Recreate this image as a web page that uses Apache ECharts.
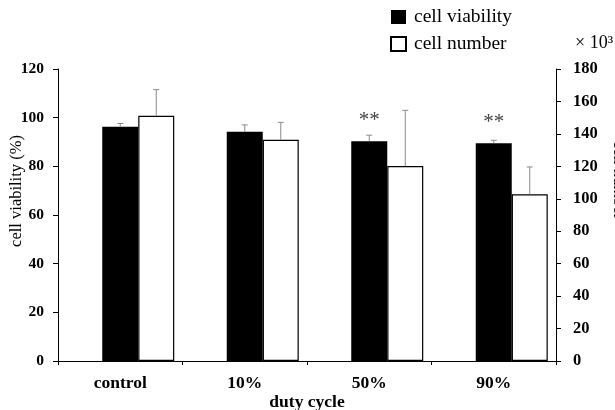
<!DOCTYPE html>
<html>
<head>
<meta charset="utf-8">
<script src="https://cdn.jsdelivr.net/npm/echarts@6/dist/echarts.min.js"></script>
<style>
html,body{margin:0;padding:0;background:#fff;}
#chart{width:615px;height:410px;}
</style>
</head>
<body>
<div id="chart"></div>
<script>
// ---- data ----
const categories = ['control', '10%', '50%', '90%'];
const viability = [96.3, 94.2, 90.3, 89.5];          // cell viability (%)
const viabilityErr = [1.3, 2.8, 2.5, 1.2];
const cellNumber = [151.2, 136.4, 120.2, 102.8];    // cell number (x10^3)
const cellNumberErr = [16.1, 10.7, 34.3, 16.8];
const significance = ['', '', '**', '**'];
const leftTicks = { min: 0, max: 120, interval: 20 };
const rightTicks = { min: 0, max: 180, interval: 20 };

// ---- style ----
const FONT = '"Liberation Serif", "Times New Roman", serif';
const BAR_W = 36;

const chart = echarts.init(document.getElementById('chart'), null, { renderer: 'canvas' });

function errRender(offsetPx) {
  return function (params, api) {
    const i = api.value(0);
    const base = api.coord([i, api.value(1)]);
    const top = api.coord([i, api.value(2)]);
    const x = base[0] + offsetPx;
    const cap = 3;
    const style = { stroke: '#8a8a8a', lineWidth: 1, fill: null };
    return {
      type: 'group',
      children: [
        { type: 'line', shape: { x1: x, y1: base[1], x2: x, y2: top[1] }, style: style },
        { type: 'line', shape: { x1: x - cap, y1: top[1], x2: x + cap, y2: top[1] }, style: style }
      ]
    };
  };
}

const axisLine = { show: true, lineStyle: { color: '#000', width: 1 } };
const axisTick = { show: true, inside: false, length: 5, lineStyle: { color: '#000', width: 1 } };
const tickLabel = { color: '#000', fontFamily: FONT, fontWeight: 'bold' };

const option = {
  animation: false,
  backgroundColor: '#fff',
  grid: { left: 58, right: 59, top: 69, bottom: 49, containLabel: false, outerBoundsMode: 'none' },
  legend: {
    data: ['cell viability', 'cell number'],
    orient: 'vertical',
    left: 390,
    top: 7,
    padding: 0,
    itemWidth: 15,
    itemHeight: 14,
    itemGap: 7,
    icon: 'rect',
    selectedMode: false,
    textStyle: { fontFamily: FONT, fontSize: 19.5, color: '#000', padding: [0, 0, 0, 3] }
  },
  xAxis: {
    type: 'category',
    data: categories,
    boundaryGap: true,
    axisLine: axisLine,
    axisTick: { show: true, length: 4, alignWithLabel: false, lineStyle: { color: '#000' } },
    axisLabel: Object.assign({ margin: 13, fontSize: 17.5 }, tickLabel),
    name: 'duty cycle',
    nameLocation: 'middle',
    nameGap: 32,
    nameMoveOverlap: false,
    nameTextStyle: { fontFamily: FONT, fontWeight: 'bold', fontSize: 17.5, color: '#000' },
    splitLine: { show: false }
  },
  yAxis: [
    {
      type: 'value',
      position: 'left',
      min: leftTicks.min, max: leftTicks.max, interval: leftTicks.interval,
      axisLine: axisLine,
      axisTick: axisTick,
      axisLabel: Object.assign({ margin: 14, fontSize: 15.5 }, tickLabel),
      splitLine: { show: false }
    },
    {
      type: 'value',
      position: 'right',
      min: rightTicks.min, max: rightTicks.max, interval: rightTicks.interval,
      axisLine: axisLine,
      axisTick: axisTick,
      axisLabel: Object.assign({ margin: 17, fontSize: 16.5 }, tickLabel),
      splitLine: { show: false }
    }
  ],
  series: [
    {
      name: '_spacer',
      type: 'bar',
      xAxisIndex: 0, yAxisIndex: 0,
      barWidth: BAR_W, barGap: '0%',
      data: categories.map(() => null),
      silent: true
    },
    {
      name: 'cell viability',
      type: 'bar',
      xAxisIndex: 0, yAxisIndex: 0,
      barWidth: BAR_W, barGap: '0%',
      itemStyle: { color: '#000' },
      data: viability,
      label: {
        show: true,
        position: 'top',
        distance: 10,
        formatter: (p) => significance[p.dataIndex],
        fontFamily: FONT,
        fontSize: 21,
        color: '#444'
      },
      z: 2
    },
    {
      name: 'cell number',
      type: 'bar',
      xAxisIndex: 0, yAxisIndex: 1,
      barWidth: BAR_W, barGap: '0%',
      itemStyle: { color: '#fff', borderColor: '#000', borderWidth: 1.2 },
      data: cellNumber,
      z: 2
    },
    {
      name: 'viabilityErr',
      type: 'custom',
      xAxisIndex: 0, yAxisIndex: 0,
      renderItem: errRender(0),
      data: viability.map((v, i) => [i, v, v + viabilityErr[i]]),
      z: 3,
      silent: true
    },
    {
      name: 'cellNumberErr',
      type: 'custom',
      xAxisIndex: 0, yAxisIndex: 1,
      renderItem: errRender(BAR_W),
      data: cellNumber.map((v, i) => [i, v, v + cellNumberErr[i]]),
      z: 3,
      silent: true
    }
  ],
  graphic: [
    {
      type: 'text', x: 17, y: 191, rotation: Math.PI / 2,
      style: { text: 'cell viability (%)', fontFamily: FONT, fontSize: 16.5, fill: '#000', align: 'center', verticalAlign: 'middle' }
    },
    {
      type: 'text', x: 618, y: 180, rotation: -Math.PI / 2,
      style: { text: 'cell number', fontFamily: FONT, fontSize: 16.5, fill: '#000', align: 'center', verticalAlign: 'middle' }
    },
    {
      type: 'text', x: 575, y: 43,
      style: { text: '× 10³', fontFamily: FONT, fontSize: 18, fill: '#000', align: 'left', verticalAlign: 'middle' }
    }
  ]
};

chart.setOption(option);
</script>
</body>
</html>
